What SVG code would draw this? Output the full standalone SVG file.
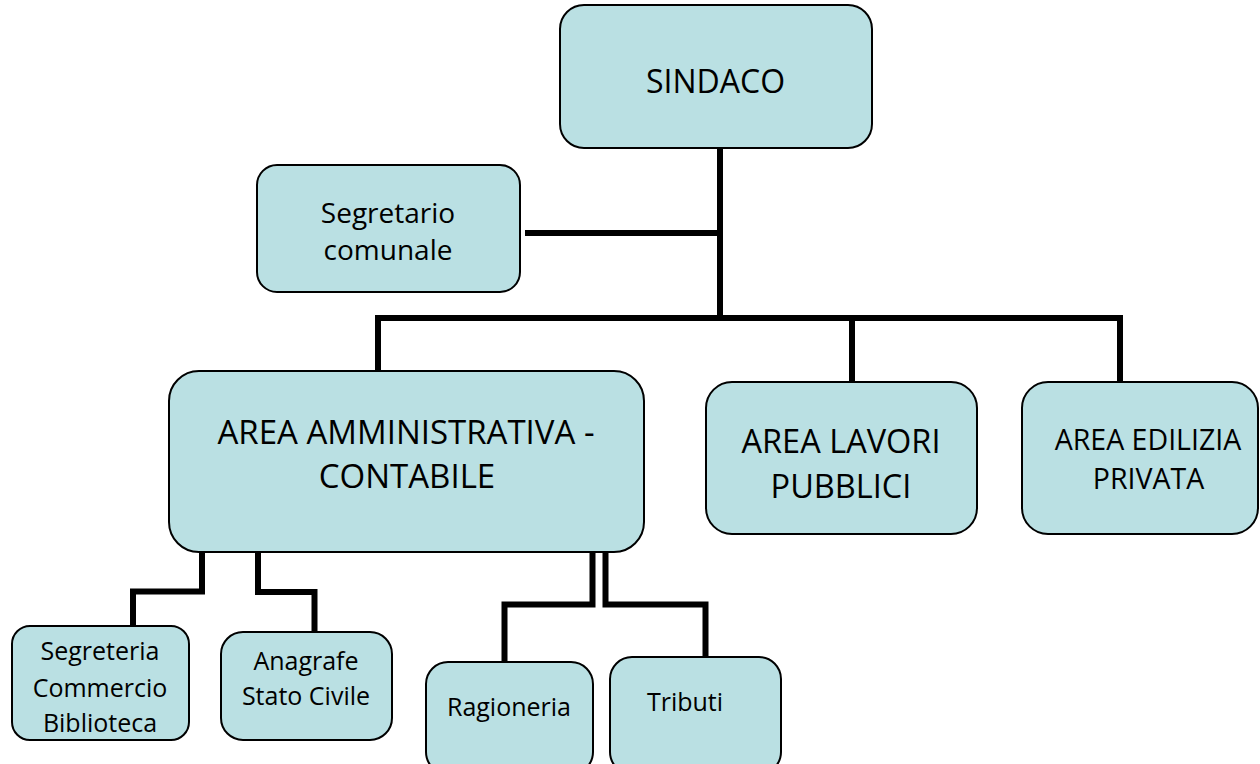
<svg xmlns="http://www.w3.org/2000/svg" width="1260" height="764" viewBox="0 0 1260 764">
<style>
.box{fill:#bae0e3;stroke:#000;stroke-width:2}
.t{font-family:"Open Sans","Noto Sans",sans-serif;fill:#000;text-anchor:middle}
.c{fill:none;stroke:#000;stroke-width:6;stroke-linejoin:miter}
</style>
<rect width="1260" height="764" fill="#fff"/>
<g id="connectors">
<path class="c" d="M720 148V318"/>
<path class="c" d="M525 233H720"/>
<path class="c" d="M378 371V318H1120V382"/>
<path class="c" d="M852 318V382"/>
<path class="c" d="M202 552V591.5H133V626"/>
<path class="c" d="M258 552V592H314.5V632"/>
<path class="c" d="M592.5 545V604.5H504.5V662"/>
<path class="c" d="M605.5 552V604.5H705.5V657"/>
</g>
<g id="sindaco"><rect class="box" x="560" y="5" width="312" height="143" rx="24"/><text class="t" x="715.5" y="93" font-size="32">SINDACO</text></g>
<g id="segretario"><rect class="box" x="257" y="165" width="263" height="127" rx="20"/><text class="t" x="388" y="223" font-size="28">Segretario</text><text class="t" x="388" y="260" font-size="28">comunale</text></g>
<g id="area-amm"><rect class="box" x="169" y="371" width="475" height="181" rx="30"/><text class="t" x="406" y="444" font-size="33">AREA AMMINISTRATIVA -</text><text class="t" x="407" y="488" font-size="33">CONTABILE</text></g>
<g id="area-lavori"><rect class="box" x="706" y="382" width="271" height="152" rx="26"/><text class="t" x="841" y="453" font-size="32.5">AREA LAVORI</text><text class="t" x="841" y="498" font-size="32.5">PUBBLICI</text></g>
<g id="area-edilizia"><rect class="box" x="1022" y="382" width="236" height="152" rx="26"/><text class="t" x="1148" y="450" font-size="28.5">AREA EDILIZIA</text><text class="t" x="1148.5" y="489" font-size="28.5">PRIVATA</text></g>
<g id="segreteria"><rect class="box" x="12" y="626" width="177" height="114" rx="18"/><text class="t" x="100" y="660" font-size="25">Segreteria</text><text class="t" x="100" y="697" font-size="25">Commercio</text><text class="t" x="100" y="732" font-size="25">Biblioteca</text></g>
<g id="anagrafe"><rect class="box" x="221" y="632" width="171" height="108" rx="22"/><text class="t" x="306" y="670" font-size="25">Anagrafe</text><text class="t" x="306" y="705" font-size="25">Stato Civile</text></g>
<g id="ragioneria"><rect class="box" x="426" y="662" width="167" height="112" rx="22"/><text class="t" x="509" y="716" font-size="25">Ragioneria</text></g>
<g id="tributi"><rect class="box" x="610" y="657" width="171" height="117" rx="22"/><text class="t" x="685" y="711" font-size="25">Tributi</text></g>
</svg>
